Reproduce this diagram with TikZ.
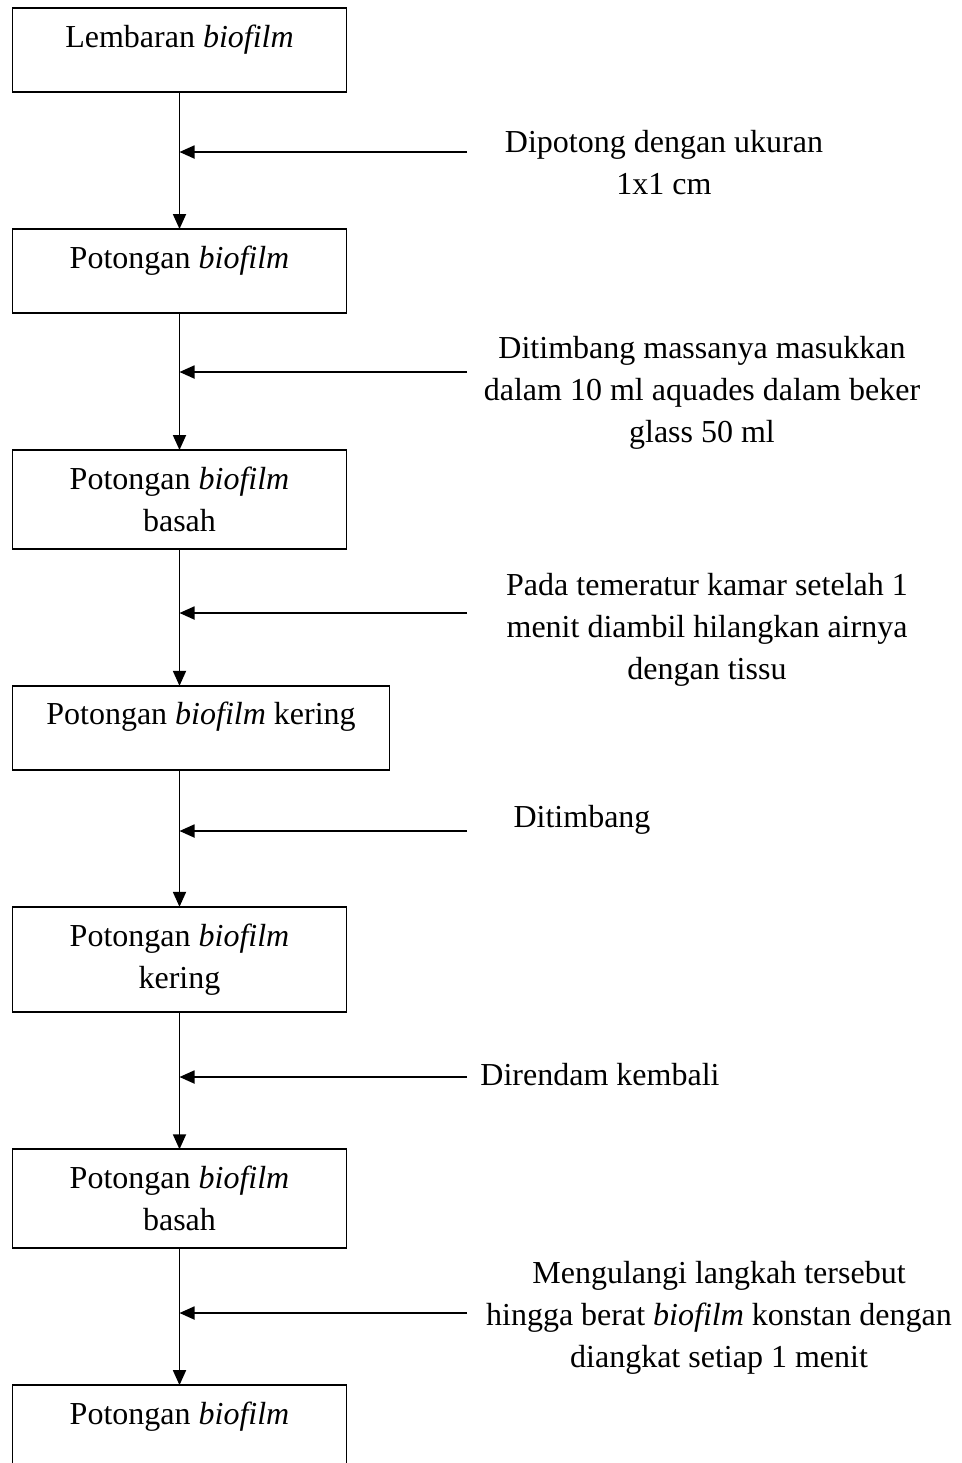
\documentclass[tikz,border=0pt]{standalone}
\usepackage{fontspec}
\setmainfont{Liberation Serif}
\usepackage{tikz}
\usetikzlibrary{positioning,arrows.meta}

\begin{document}
\begin{tikzpicture}[
  x=0.5pt, y=-0.5pt,
  every node/.style={font=\fontsize{16}{21}\selectfont},
  box/.style={rectangle, draw, line width=0.9pt, minimum width=167pt, outer sep=0pt,
              align=center, inner ysep=8.5pt, anchor=north west},
  single/.style={box, text height=11pt, text depth=14pt},
  double/.style={box},
  note/.style={align=center, inner sep=0pt, anchor=north},
  flow/.style={-{Triangle[length=7.5pt,width=6.5pt]}, line width=0.9pt}
]
  \useasboundingbox (0,0) rectangle (962,1463);
  \clip (0,0) rectangle (962,1463);

  \node[single] (b1) at (12.5,8) {Lembaran \textit{biofilm}};
  \node[below=68.5pt of b1.south west, single] (b2) {Potongan \textit{biofilm}};
  \node[below=68.5pt of b2.south west, double] (b3) {Potongan \textit{biofilm}\\basah};
  \node[below=68.5pt of b3.south west, single, minimum width=188.5pt] (b4) {Potongan \textit{biofilm} kering};
  \node[below=68.5pt of b4.south west, double] (b5) {Potongan \textit{biofilm}\\kering};
  \node[below=68.5pt of b5.south west, double] (b6) {Potongan \textit{biofilm}\\basah};
  \node[below=68.5pt of b6.south west, single] (b7) {Potongan \textit{biofilm}};

  \node[note] (t1) at (664,130) {Dipotong dengan ukuran\\1x1 cm};
  \node[note] (t2) at (702,336) {Ditimbang massanya masukkan\\dalam 10 ml aquades dalam beker\\glass 50 ml};
  \node[note] (t3) at (707,573) {Pada temeratur kamar setelah 1\\menit diambil hilangkan airnya\\dengan tissu};
  \node[note] (t4) at (582,805) {Ditimbang};
  \node[note] (t5) at (600,1063) {Direndam kembali};
  \node[note] (t6) at (719,1261) {Mengulangi langkah tersebut\\hingga berat \textit{biofilm} konstan dengan\\diangkat setiap 1 menit};

  \coordinate (c1) at (467,152);
  \coordinate (c2) at (467,372);
  \coordinate (c3) at (467,613);
  \coordinate (c4) at (467,831);
  \coordinate (c5) at (467,1077);
  \coordinate (c6) at (467,1313);

  \draw[flow] (b1.south) -- (b2.north);
  \draw[flow] (b2.south) -- (b3.north);
  \draw[flow] (b3.south) -- (b3.south |- b4.north);
  \draw[flow] (b5.north |- b4.south) -- (b5.north);
  \draw[flow] (b5.south) -- (b6.north);
  \draw[flow] (b6.south) -- (b7.north);

  \foreach \i in {1,...,6}
    \draw[flow] (c\i) -- (c\i -| b1.south);
\end{tikzpicture}
\end{document}
